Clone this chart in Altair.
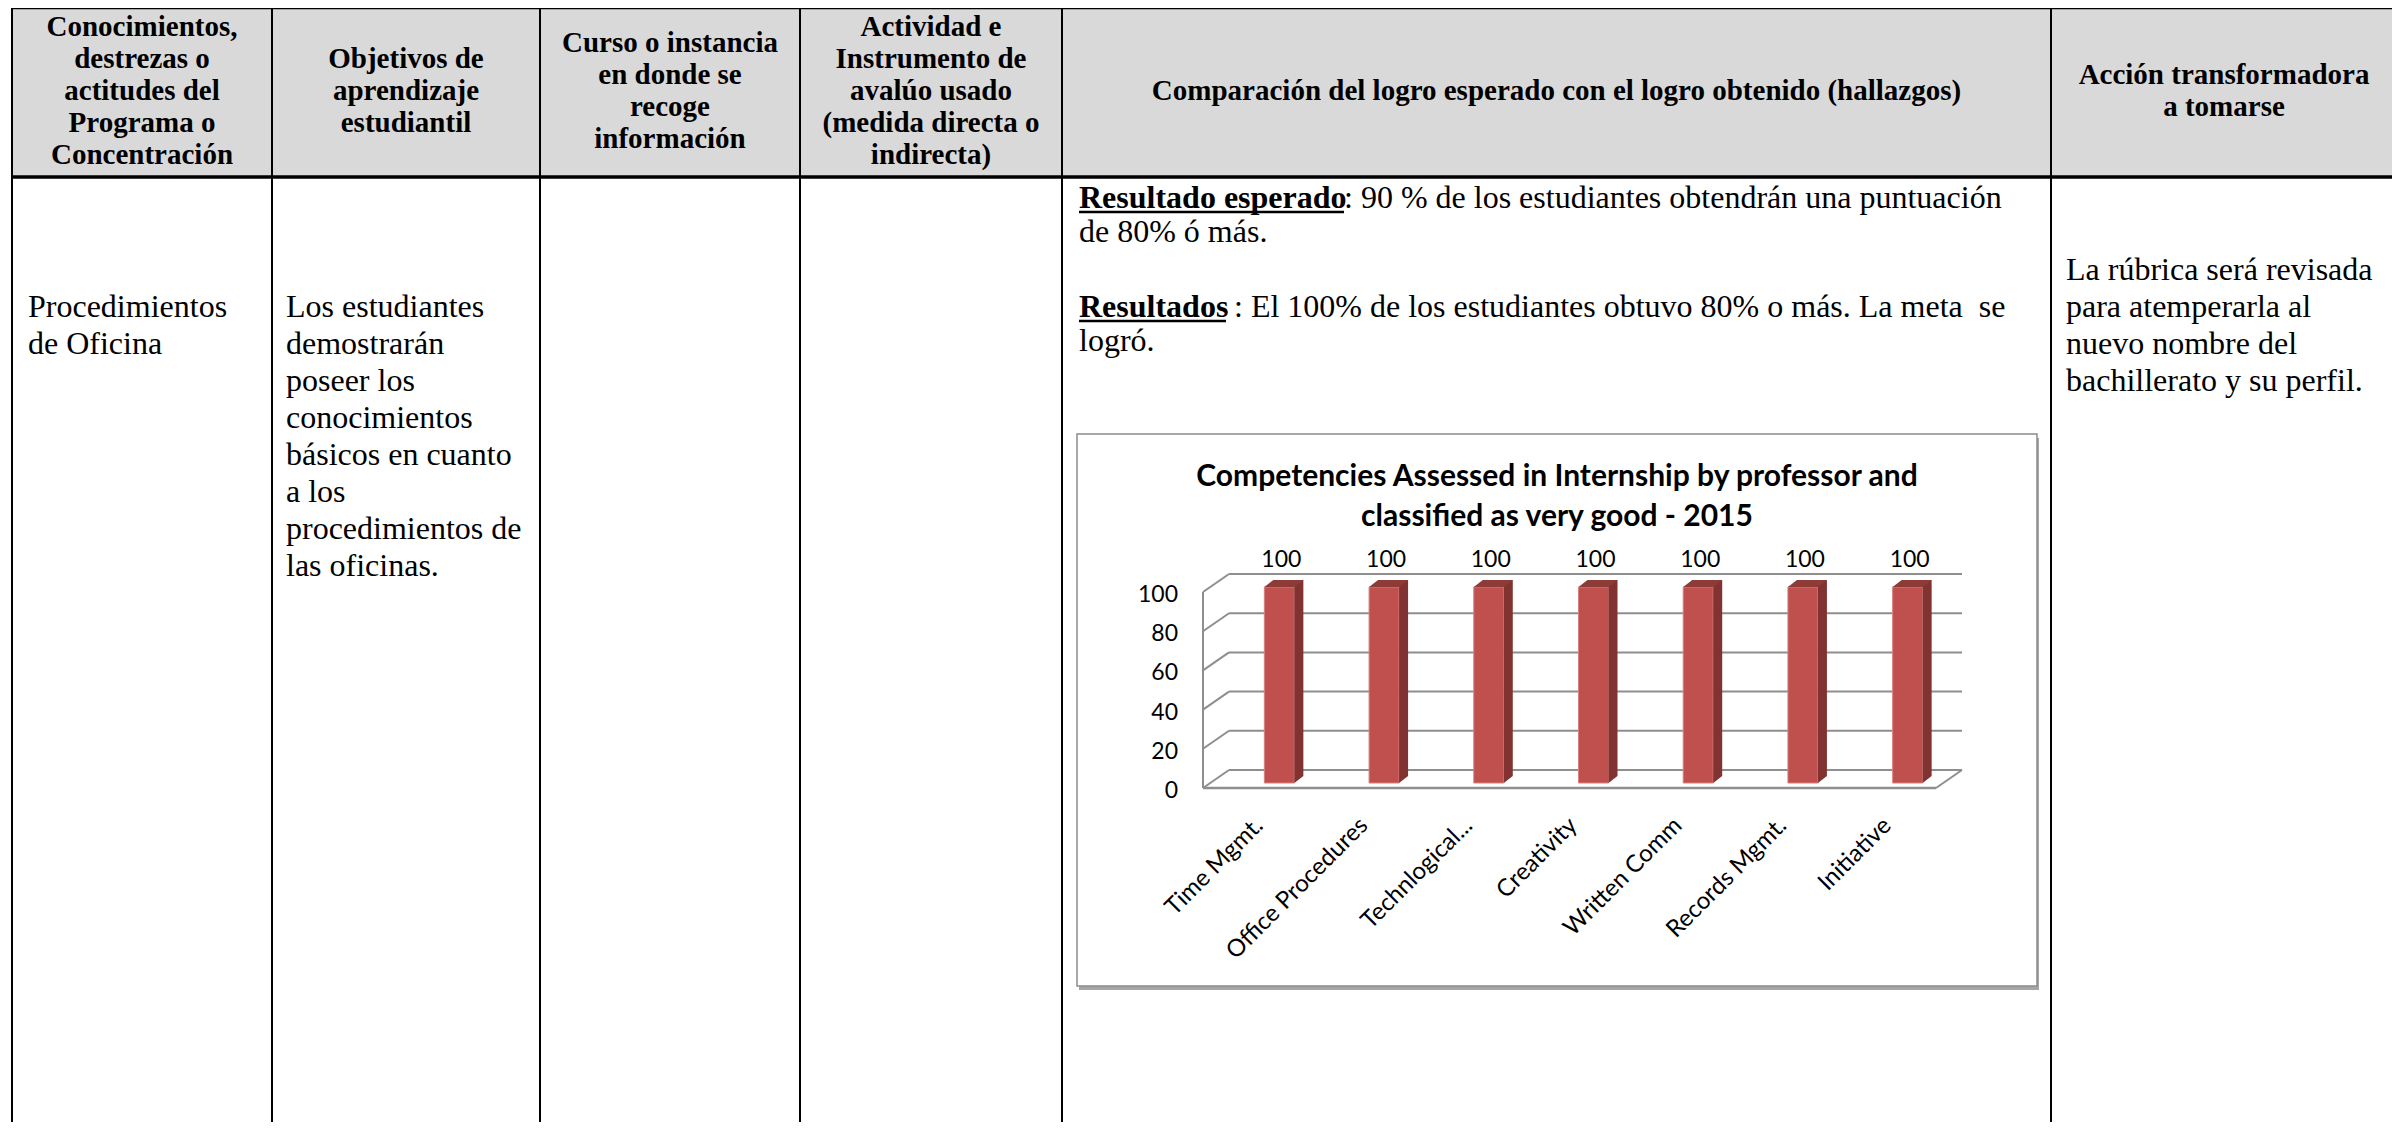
import altair as alt
import pandas as pd

# ---------------- data ----------------
categories = ["Time Mgmt.", "Office Procedures", "Technlogical...", "Creativity",
              "Written Comm", "Records Mgmt.", "Initiative"]
values = [100, 100, 100, 100, 100, 100, 100]
y_ticks = [0, 20, 40, 60, 80, 100]
chart_title = "Competencies Assessed in Internship by professor and\nclassified as very good - 2015"

headers = [
    "Conocimientos,\ndestrezas o\nactitudes del\nPrograma o\nConcentración",
    "Objetivos de\naprendizaje\nestudiantil",
    "Curso o instancia\nen donde se\nrecoge\ninformación",
    "Actividad e\nInstrumento de\navalúo usado\n(medida directa o\nindirecta)",
    "Comparación del logro esperado con el logro obtenido (hallazgos)",
    "Acción transformadora\na tomarse",
]
col1_text = "Procedimientos\nde Oficina"
col2_text = ("Los estudiantes\ndemostrarán\nposeer los\nconocimientos\nbásicos en cuanto\n"
             "a los\nprocedimientos de\nlas oficinas.")
col6_text = "La rúbrica será revisada\npara atemperarla al\nnuevo nombre del\nbachillerato y su perfil."
res_bold = ["Resultado esperado", "Resultados"]
res_rest = [": 90 % de los estudiantes obtendrán una puntuación",
            ": El 100% de los estudiantes obtuvo 80% o más. La meta\u00a0 se"]
res_cont = ["de 80% ó más.", "logró."]

# ---------------- layout (page pixels) ----------------
M = 8  # page margin
def P(v):
    return v - M

W, H = 2384, 1114
col_edges = [12, 272, 540, 800, 1062, 2051, 2397]
table_top, header_bottom, table_bottom = 8, 177, 1135
header_cy = 91
header_lh = 32

SERIF = "Liberation Serif"
SANS = "Lato"

# chart box & 3D geometry
box = (1077, 434, 2037, 986)
wall_front_x, wall_back_x = 1203, 1229
floor_front_right, floor_back_right = 1936, 1962
band_range = [P(1227), P(1960)]
y_range = [P(783), P(587)]
back_dy, front_dy, label_dy = -13, 5, 8
grid_color = "#8E8E8E"

xs = alt.Scale(type="band", domain=categories, range=band_range, paddingInner=0, paddingOuter=0)
ys = alt.Scale(domain=[0, 100], range=y_range, nice=False, zero=True)

bars_df = pd.DataFrame({"cat": categories, "value": values})
ticks_df = pd.DataFrame({"v": y_ticks, "label": [str(t) for t in y_ticks]})

def ident(field, typ="Q"):
    return alt.X(f"{field}:{typ}", scale=None, axis=None)

def identy(field, typ="Q"):
    return alt.Y(f"{field}:{typ}", scale=None, axis=None)

# ---------------- table ----------------
header_bg = alt.Chart(pd.DataFrame({"x": [P(col_edges[0])], "x2": [P(col_edges[-1])],
                                    "y": [P(table_top)], "y2": [P(header_bottom)]})).mark_rect(
    color="#D9D9D9").encode(x=ident("x"), x2="x2:Q", y=identy("y"), y2="y2:Q")

hl = pd.DataFrame({"x": [P(col_edges[0]) - 1, P(col_edges[0]) - 1],
                   "x2": [P(col_edges[-1]) + 1, P(col_edges[-1]) + 1],
                   "y": [P(table_top), P(header_bottom)], "w": [2.5, 3.5]})
hlines = alt.Chart(hl).mark_rule(color="black").encode(
    x=ident("x"), x2="x2:Q", y=identy("y"), strokeWidth=alt.StrokeWidth("w:Q", scale=None, legend=None))

vl = pd.DataFrame({"x": [P(c) for c in col_edges], "y": P(table_top), "y2": P(table_bottom)})
vlines = alt.Chart(vl).mark_rule(color="black", strokeWidth=2).encode(
    x=ident("x"), y=identy("y"), y2="y2:Q")

hdr_df = pd.DataFrame({
    "x": [P((col_edges[i] + col_edges[i + 1]) / 2) for i in range(6)],
    "y": [P(header_cy - (h.count("\n")) * header_lh / 2) for h in headers],
    "t": headers})
header_text = alt.Chart(hdr_df).mark_text(
    font=SERIF, fontSize=29, fontWeight="bold", lineBreak="\n", lineHeight=header_lh,
    align="center", baseline="middle", color="black").encode(
    x=ident("x"), y=identy("y"), text="t:N")

body_df = pd.DataFrame({
    "x": [P(28), P(286), P(2066), P(1079), P(1079)],
    "y": [P(292), P(292), P(255), P(217), P(326)],
    "t": [col1_text, col2_text, col6_text, res_cont[0], res_cont[1]]})
body_text = alt.Chart(body_df).mark_text(
    font=SERIF, fontSize=32, lineBreak="\n", lineHeight=37,
    align="left", baseline="top", color="black").encode(
    x=ident("x"), y=identy("y"), text="t:N")

bold_df = pd.DataFrame({"x": [P(1079), P(1079)], "y": [P(183), P(292)], "t": res_bold})
bold_text = alt.Chart(bold_df).mark_text(
    font=SERIF, fontSize=32, fontWeight="bold", align="left", baseline="top", color="black").encode(
    x=ident("x"), y=identy("y"), text="t:N")

rest_df = pd.DataFrame({"x": [P(1344), P(1234)], "y": [P(183), P(292)], "t": res_rest})
rest_text = alt.Chart(rest_df).mark_text(
    font=SERIF, fontSize=32, align="left", baseline="top", color="black").encode(
    x=ident("x"), y=identy("y"), text="t:N")

ul_df = pd.DataFrame({"x": [P(1079), P(1079)], "x2": [P(1344), P(1226)], "y": [P(212), P(321)]})
underline = alt.Chart(ul_df).mark_rule(color="black", strokeWidth=2.5).encode(
    x=ident("x"), x2="x2:Q", y=identy("y"))

# ---------------- chart box ----------------
box_df = pd.DataFrame({"x": [P(box[0])], "x2": [P(box[2])], "y": [P(box[1])], "y2": [P(box[3])]})
shadow = alt.Chart(box_df).mark_rect(color="#A6A6A6", xOffset=2, x2Offset=2, yOffset=4, y2Offset=4).encode(
    x=ident("x"), x2="x2:Q", y=identy("y"), y2="y2:Q")
frame = alt.Chart(box_df).mark_rect(fill="white", stroke="#8C8C8C", strokeWidth=1.5).encode(
    x=ident("x"), x2="x2:Q", y=identy("y"), y2="y2:Q")

title_df = pd.DataFrame({"x": [P(1557)], "y": [P(477)], "t": [chart_title]})
title = alt.Chart(title_df).mark_text(
    font=SANS, fontSize=30, fontWeight="bold", lineBreak="\n", lineHeight=40,
    align="center", baseline="middle", color="black").encode(
    x=ident("x"), y=identy("y"), text="t:N")

# ---------------- 3D grid ----------------
base_t = alt.Chart(ticks_df)
back_grid = base_t.mark_rule(color=grid_color, strokeWidth=2, yOffset=back_dy, y2Offset=back_dy).encode(
    x=alt.value(P(wall_back_x)), x2=alt.value(P(floor_back_right)),
    y=alt.Y("v:Q", scale=ys, axis=None), y2="v:Q")
side_grid = base_t.mark_rule(color=grid_color, strokeWidth=2, yOffset=front_dy, y2Offset=back_dy).encode(
    x=alt.value(P(wall_front_x)), x2=alt.value(P(wall_back_x)),
    y=alt.Y("v:Q", scale=ys, axis=None), y2="v:Q")
wall_front = alt.Chart(pd.DataFrame({"a": [0], "b": [100]})).mark_rule(
    color=grid_color, strokeWidth=2, yOffset=front_dy, y2Offset=front_dy).encode(
    x=alt.value(P(wall_front_x)), y=alt.Y("a:Q", scale=ys, axis=None), y2="b:Q")
floor_df = pd.DataFrame({"a": [0]})
floor_front = alt.Chart(floor_df).mark_rule(
    color=grid_color, strokeWidth=2.5, yOffset=front_dy, y2Offset=front_dy).encode(
    x=alt.value(P(wall_front_x)), x2=alt.value(P(floor_front_right)),
    y=alt.Y("a:Q", scale=ys, axis=None), y2="a:Q")
floor_right = alt.Chart(floor_df).mark_rule(
    color=grid_color, strokeWidth=2, yOffset=front_dy, y2Offset=back_dy).encode(
    x=alt.value(P(floor_front_right)), x2=alt.value(P(floor_back_right)),
    y=alt.Y("a:Q", scale=ys, axis=None), y2="a:Q")

ytick_labels = base_t.mark_text(font=SANS, fontSize=23, align="right", baseline="middle",
                                color="black", yOffset=label_dy).encode(
    x=alt.value(P(1178)), y=alt.Y("v:Q", scale=ys, axis=None), text="label:N")

# ---------------- bars ----------------
base_b = alt.Chart(bars_df)
X = alt.X("cat:N", scale=xs, axis=None, sort=categories)
Yv = alt.Y("value:Q", scale=ys, axis=None)
front = base_b.mark_bar(width=30, color="#C0504D", stroke="#D9817E", strokeWidth=1).encode(x=X, y=Yv)
side = base_b.mark_bar(width=9, color="#803330", xOffset=19.5, yOffset=-7, y2Offset=-7).encode(x=X, y=Yv)
top = base_b.mark_point(shape="M0,0L30,0L39,-7L9,-7Z", size=4, filled=True, color="#8E3B38",
                        opacity=1, strokeWidth=0, xOffset=-15).encode(x=X, y=Yv)
bottom_tri = base_b.mark_point(shape="M0,0L0,-7L9,-7Z", size=4, filled=True, color="#803330",
                               opacity=1, strokeWidth=0, xOffset=15).encode(
    x=X, y=alt.Y("zero:Q", scale=ys, axis=None)).transform_calculate(zero="0")
value_labels = base_b.mark_text(font=SANS, fontSize=23, baseline="middle", align="center",
                                color="black", xOffset=2, yOffset=-27).encode(
    x=X, y=Yv, text=alt.Text("value:Q", format="d"))
cat_labels = base_b.mark_text(font=SANS, fontSize=24, angle=315, align="right", baseline="middle",
                              color="black", xOffset=-20).encode(
    x=X, y=alt.value(P(822)), text="cat:N")

chart = alt.layer(
    header_bg, shadow, frame, title,
    back_grid, side_grid, wall_front, floor_front, floor_right, ytick_labels,
    front, side, bottom_tri, top, value_labels, cat_labels,
    body_text, bold_text, rest_text, underline,
    vlines, hlines, header_text,
).resolve_scale(x="independent", y="independent").properties(
    width=W, height=H, padding=0, autosize="none", background="white"
).configure_view(stroke=None)

chart.save("out.html", embed_options={"renderer": "svg", "actions": False})
